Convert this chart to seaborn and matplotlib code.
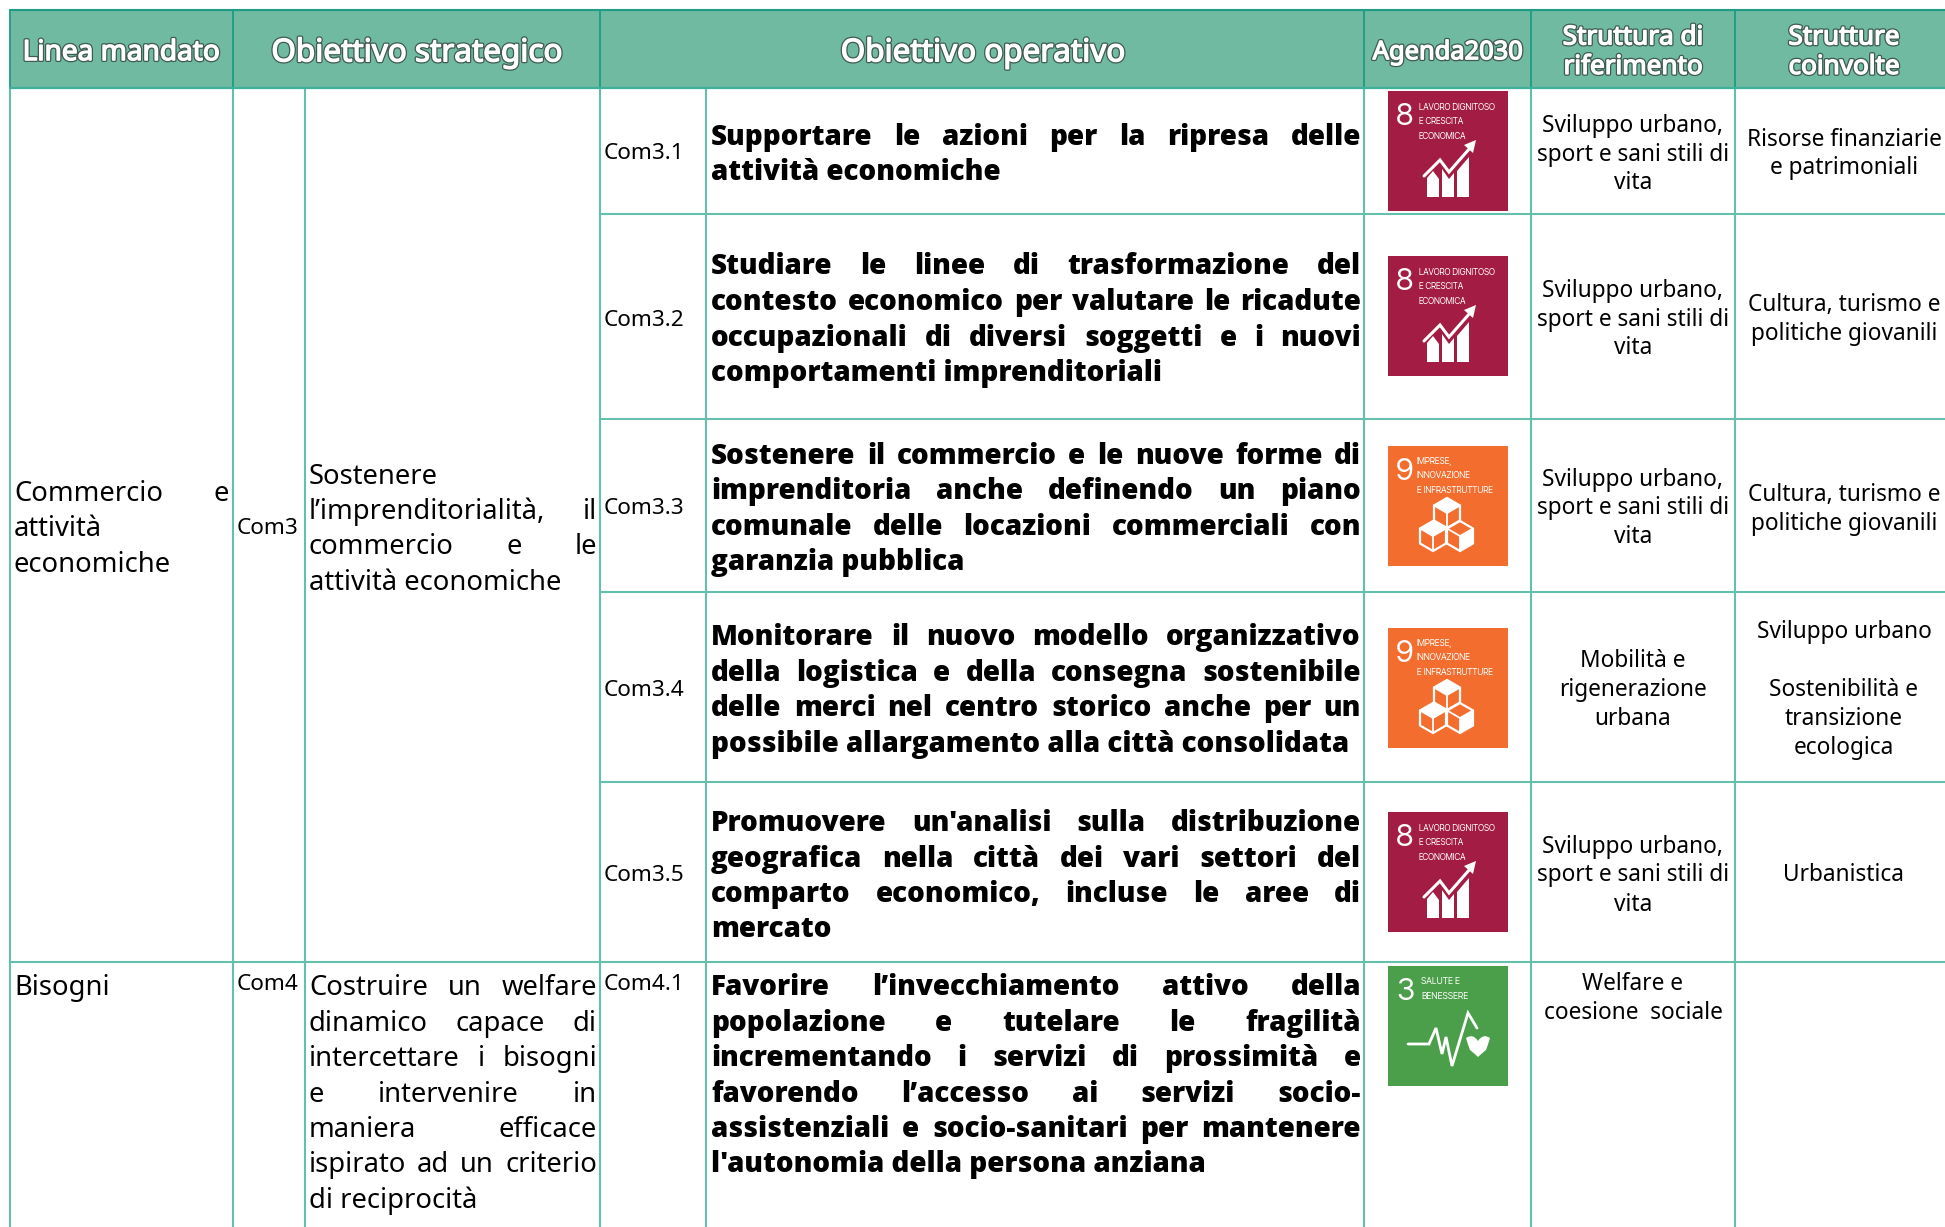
import matplotlib
matplotlib.use("Agg")
import matplotlib.pyplot as plt
import matplotlib.patheffects as pe
from matplotlib.font_manager import FontProperties
from matplotlib.patches import Rectangle, Polygon, PathPatch
from matplotlib.path import Path
import seaborn as sns

# ---------- content ----------
headers = [("Linea mandato",), ("Obiettivo strategico",), ("Obiettivo operativo",), ("Agenda2030",),
           ("Struttura di", "riferimento"), ("Strutture", "coinvolte")]
line_mandato = [[("Commercio e", True), ("attività", False), ("economiche", False)], [("Bisogni", False)]]
strategic_codes = ["Com3", "Com4"]
strategic_text = [
    [("Sostenere", False), ("l’imprenditorialità, il", True), ("commercio e le", True), ("attività economiche", False)],
    [("Costruire un welfare", True), ("dinamico capace di", True), ("intercettare i bisogni", True),
     ("e intervenire in", True), ("maniera efficace", True), ("ispirato ad un criterio", True), ("di reciprocità", False)],
]
op_codes = ["Com3.1", "Com3.2", "Com3.3", "Com3.4", "Com3.5", "Com4.1"]
op_text = [
    [("Supportare le azioni per la ripresa delle", True), ("attività economiche", False)],
    [("Studiare le linee di trasformazione del", True), ("contesto economico per valutare le ricadute", True),
     ("occupazionali di diversi soggetti e i nuovi", True), ("comportamenti imprenditoriali", False)],
    [("Sostenere il commercio e le nuove forme di", True), ("imprenditoria anche definendo un piano", True),
     ("comunale delle locazioni commerciali con", True), ("garanzia pubblica", False)],
    [("Monitorare il nuovo modello organizzativo", True), ("della logistica e della consegna sostenibile", True),
     ("delle merci nel centro storico anche per un", True), ("possibile allargamento alla città consolidata", False)],
    [("Promuovere un'analisi sulla distribuzione", True), ("geografica nella città dei vari settori del", True),
     ("comparto economico, incluse le aree di", True), ("mercato", False)],
    [("Favorire l’invecchiamento attivo della", True), ("popolazione e tutelare le fragilità", True),
     ("incrementando i servizi di prossimità e", True), ("favorendo l’accesso ai servizi socio-", True),
     ("assistenziali e socio-sanitari per mantenere", True), ("l'autonomia della persona anziana", False)],
]
sdg_goals = [8, 8, 9, 9, 8, 3]
sdg_titles = {8: ["LAVORO DIGNITOSO", "E CRESCITA", "ECONOMICA"],
              9: ["IMPRESE,", "INNOVAZIONE", "E INFRASTRUTTURE"],
              3: ["SALUTE E", "BENESSERE"]}
reference = [["Sviluppo urbano,", "sport e sani stili di", "vita"]] * 3 + [["Mobilità e", "rigenerazione", "urbana"]] + \
            [["Sviluppo urbano,", "sport e sani stili di", "vita"], ["Welfare e", "coesione  sociale"]]
involved = [["Risorse finanziarie", "e patrimoniali"], ["Cultura, turismo e", "politiche giovanili"],
            ["Cultura, turismo e", "politiche giovanili"],
            ["Sviluppo urbano", "", "Sostenibilità e", "transizione", "ecologica"], ["Urbanistica"], []]

# ---------- layout (pixel grid of the table) ----------
W, H = 1945, 1227
col_x = [10, 233, 305, 600, 706, 1364, 1531, 1735]
row_y = [88, 214, 419, 592, 782, 962]
head_top = 10
head_cx = [121, 417, 983, 1447.5, 1633, 1844]
group_y = [[491, 526, 562], [985]]
group_code_y = [526, 982]
strat_y = [[474, 509, 544.5, 580], [985, 1021, 1056, 1092, 1127, 1162, 1198]]
op_code_y = [151, 317.5, 506, 688, 873, 982]
op_y = [[135, 170], [264, 300, 335.5, 371], [454, 489, 525, 559.5],
        [635, 671, 706, 742], [821, 856.5, 892, 927], [985, 1021, 1056, 1092, 1127, 1162]]
icon_top = [91, 256, 446, 628, 812, 966]
icon_x, icon_size = 1388, 120
ref_y = [[124, 153, 181], [288.5, 317.5, 346], [477.5, 506, 535], [659, 688, 717], [845, 873, 902.5], [982, 1011]]
inv_y = [[138, 166], [303, 332], [492.5, 521.5], [630, 659, 688, 717, 746], [873], []]

HEAD_BG = "#6FBAA0"
HEAD_LINE = "#1E9C86"
BODY_LINE = "#62C0AC"
SDG_COL = {8: "#A21C44", 9: "#F36D2E", 3: "#4C9F4A"}

sns.set_theme(style="white")
plt.rcParams["font.family"] = ["Noto Sans", "DejaVu Sans"]

fig = plt.figure(figsize=(W / 100, H / 100), dpi=100, facecolor="white")
ax = fig.add_axes([0, 0, 1, 1])
ax.set_xlim(0, W)
ax.set_ylim(H, 0)
ax.axis("off")
sns.despine(ax=ax, left=True, bottom=True)
rend = fig.canvas.get_renderer()


def width(s, fp):
    t = ax.text(0, 0, s, fontproperties=fp)
    w = t.get_window_extent(rend).width
    t.remove()
    return w


def fit(sample, target, **kw):
    fp = FontProperties(size=20, **kw)
    return 20 * target / width(sample, fp)


def put(s, x, y, fp, ha="left", color="black", **kw):
    px = fp.get_size_in_points() * 100 / 72
    return ax.text(x, y + 0.36 * px, s, fontproperties=fp, ha=ha, va="baseline", color=color, **kw)


def put_line(s, just, x0, x1, y, fp):
    if not just:
        put(s, x0, y, fp)
        return
    words = s.split()
    ws = [width(w, fp) for w in words]
    gap = (x1 - x0 - sum(ws)) / (len(words) - 1)
    x = x0
    for w, wd in zip(words, ws):
        put(w, x, y, fp)
        x += wd + gap


REG = "Noto Sans"
BOLD = dict(family="Open Sans", weight=800)
HEAD = dict(family="Noto Sans")
ICON = dict(family="Inter Tight", weight=500)
fp_bold = FontProperties(size=fit("comportamenti imprenditoriali", 452, **BOLD), **BOLD)
fp_big = FontProperties(family=REG, size=fit("attività economiche", 252, family=REG))
fp_mid = FontProperties(family=REG, size=fit("sport e sani stili di", 192, family=REG))
fp_code = FontProperties(family=REG, size=fit("Com3.1", 81, family=REG))
fp_head = FontProperties(size=fit("Obiettivo strategico", 291, **HEAD), **HEAD)
fp_head2 = FontProperties(size=fit("Struttura di", 141, **HEAD), **HEAD)
fp_agenda = FontProperties(size=fit("Agenda2030", 150, **HEAD), **HEAD)
fp_linea = FontProperties(size=fit("Linea mandato", 197, **HEAD), **HEAD)

# header band and rules
ax.add_patch(Rectangle((col_x[0], head_top), W - col_x[0], row_y[0] - head_top, fc=HEAD_BG, ec="none", zorder=1))
ax.plot([col_x[0], W], [head_top, head_top], color=HEAD_LINE, lw=1.5, zorder=2)
for x in [col_x[0], col_x[1], col_x[3], col_x[5], col_x[6], col_x[7]]:
    ax.plot([x, x], [head_top, row_y[0]], color=HEAD_LINE, lw=1.3, zorder=2)
for x in col_x:
    ax.plot([x, x], [row_y[0], H], color=BODY_LINE, lw=1.5, zorder=2)
ax.plot([col_x[0], W], [row_y[0], row_y[0]], color="#3FB09A", lw=1.6, zorder=3)
for y in row_y[1:5]:
    ax.plot([col_x[3], W], [y, y], color=BODY_LINE, lw=1.5, zorder=2)
ax.plot([col_x[0], W], [row_y[5], row_y[5]], color=BODY_LINE, lw=1.5, zorder=2)

# headers
stroke = [pe.Stroke(linewidth=2.8, foreground="#3F5A50"), pe.Stroke(linewidth=1.0, foreground="white"), pe.Normal()]
head_fonts = [fp_linea, fp_head, fp_head, fp_agenda, fp_head2, fp_head2]
head_lines_y = {1: [50], 2: [35, 64.5]}
for lines, cx, fp in zip(headers, head_cx, head_fonts):
    for s, y in zip(lines, head_lines_y[len(lines)]):
        put(s, cx, y, fp, ha="center", color="white", path_effects=stroke, zorder=5)

# first columns
for lines, ys in zip(line_mandato, group_y):
    for (s, j), y in zip(lines, ys):
        put_line(s, j, 14, 229, y, fp_big)
for c, y in zip(strategic_codes, group_code_y):
    put(c, 237, y, fp_code)
for lines, ys in zip(strategic_text, strat_y):
    for (s, j), y in zip(lines, ys):
        put_line(s, j, 309, 597, y, fp_big)
for c, y in zip(op_codes, op_code_y):
    put(c, 604, y, fp_code)
for lines, ys in zip(op_text, op_y):
    for (s, j), y in zip(lines, ys):
        put_line(s, j, 711, 1361, y, fp_bold)
for lines, ys in zip(reference, ref_y):
    for s, y in zip(lines, ys):
        put(s, 1633, y, fp_mid, ha="center")
for lines, ys in zip(involved, inv_y):
    for s, y in zip(lines, ys):
        if s:
            put(s, 1844, y, fp_mid, ha="center")


# SDG icons
def icon(goal, top):
    ox, oy = icon_x, top
    P = lambda pts: [(ox + a, oy + b) for a, b in pts]
    ax.add_patch(Rectangle((ox, oy), icon_size, icon_size, fc=SDG_COL[goal], ec="none", zorder=3))
    num_fp = FontProperties(family="Inter Tight", weight=700, size=22)
    ax.text(ox + 17, oy + 34, str(goal), fontproperties=num_fp, color="white", ha="center", va="baseline", zorder=5)
    tx, ys, ref_w = {8: (31, (15, 29, 44), 77), 9: (29, (14, 28, 43), 77), 3: (33, (14, 29), 47)}[goal]
    titles = sdg_titles[goal]
    longest = max(titles, key=len)
    sz = fit(longest, ref_w, **ICON)
    tfp = FontProperties(size=sz, **ICON)
    for s, y in zip(titles, ys):
        ax.text(ox + tx, oy + y + 4, s, fontproperties=tfp, color="white", va="baseline", zorder=5)
    white = dict(color="white", solid_capstyle="round", solid_joinstyle="miter", zorder=5)
    if goal == 8:
        for pts in ([(39, 106), (51, 106), (51, 88), (45, 80), (39, 87)],
                    [(54, 106), (66, 106), (66, 82), (61, 88), (54, 78)],
                    [(69, 106), (81, 106), (81, 66), (69, 80)]):
            ax.add_patch(Polygon(P(pts), fc="white", ec="none", zorder=5))
        xs, yy = zip(*P([(36, 85), (52, 69), (61, 81), (82, 57)]))
        ax.plot(xs, yy, lw=2.2, **white)
        ax.add_patch(Polygon(P([(88, 49), (85, 62), (76, 54)]), fc="white", ec="none", zorder=5))
    elif goal == 9:
        for cx, cy, face in [(59, 67, "top"), (45, 90, "top"), (72, 90, "left")]:
            hexa = [(cx, cy - 15), (cx + 13, cy - 7.5), (cx + 13, cy + 7.5), (cx, cy + 15), (cx - 13, cy + 7.5), (cx - 13, cy - 7.5)]
            ax.add_patch(Polygon(P(hexa), fc=SDG_COL[goal], ec="white", lw=1.6, zorder=5))
            if face == "top":
                ax.add_patch(Polygon(P([(cx, cy - 15), (cx + 13, cy - 7.5), (cx, cy), (cx - 13, cy - 7.5)]), fc="white", ec="none", zorder=6))
            else:
                ax.add_patch(Polygon(P([(cx, cy), (cx + 13, cy - 7.5), (cx + 13, cy + 7.5), (cx, cy + 15)]), fc="white", ec="none", zorder=6))
            for a, b in [((cx, cy), (cx + 13, cy - 7.5)), ((cx, cy), (cx - 13, cy - 7.5)), ((cx, cy), (cx, cy + 15))]:
                xs, yy = zip(*P([a, b]))
                ax.plot(xs, yy, color="white", lw=1.3, zorder=6)
    elif goal == 3:
        xs, yy = zip(*P([(20, 78), (41, 78), (48, 62), (54, 88), (58, 71), (64, 100), (80, 47), (89, 62)]))
        ax.plot(xs, yy, lw=2.0, **white)
        hx, hy = ox + 90, oy + 70
        verts = [(hx, hy + 5), (hx - 5, hy - 3), (hx - 12, hy + 2), (hx - 10, hy + 9), (hx - 8, hy + 14), (hx - 3, hy + 18),
                 (hx, hy + 21), (hx + 3, hy + 18), (hx + 8, hy + 14), (hx + 10, hy + 9), (hx + 12, hy + 2), (hx + 5, hy - 3),
                 (hx, hy + 5)]
        codes = [Path.MOVETO] + [Path.CURVE3] * 12
        ax.add_patch(PathPatch(Path(verts, codes), fc="white", ec="none", zorder=5))


for g, t in zip(sdg_goals, icon_top):
    icon(g, t)

fig.savefig("out.png", dpi=100, facecolor="white")
